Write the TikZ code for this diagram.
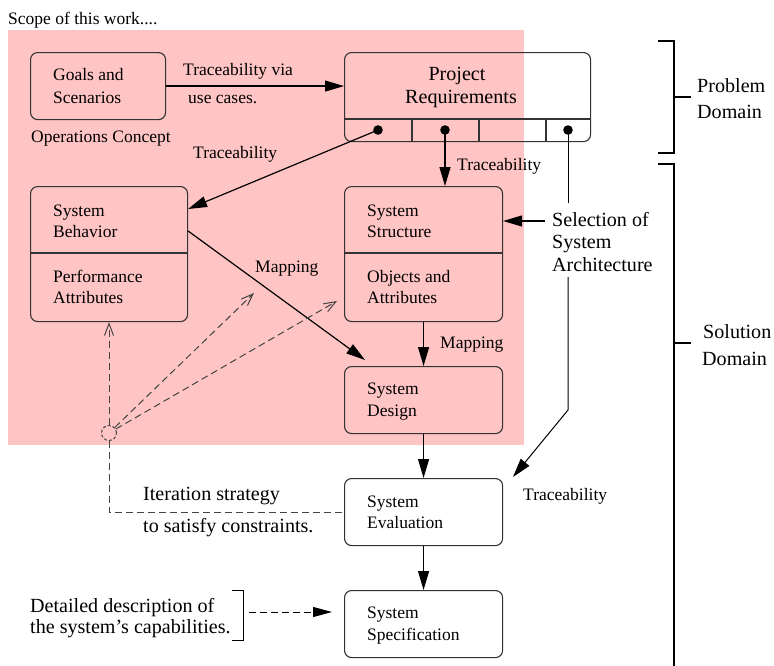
\documentclass[tikz,border=0pt]{standalone}
\usepackage{fontspec}
\setmainfont{Liberation Serif}
\usetikzlibrary{arrows.meta,calc}
\definecolor{scopepink}{HTML}{FFC4C4}
\definecolor{boxline}{HTML}{333333}
\definecolor{dashgray}{HTML}{444444}
\begin{document}
\begin{tikzpicture}[x=1pt,y=-1pt,
  font=\fontsize{17.5}{21}\selectfont,
  box/.style={draw=boxline,line width=1.1pt,rounded corners=7pt,inner sep=0pt,anchor=north west},
  lbl/.style={anchor=base west,inner sep=0pt},
  big/.style={font=\fontsize{20.1}{24}\selectfont},
  arr/.style={-{Triangle[length=19pt,width=11pt]},line width=1.2pt},
  dsh/.style={draw=dashgray,dash pattern=on 7pt off 4pt,line width=1pt},
  openarr/.style={-{Straight Barb[length=12pt,width=9pt]}},
  brk/.style={line width=2pt}
]
\fill[white] (0,0) rectangle (774,665);
\useasboundingbox (0,0) rectangle (774,665);
\fill[scopepink] (8,30) rectangle (524,445);

\node[lbl] (tscope) at (8,24) {Scope of this work....};

% boxes
\node[box,minimum width=135pt,minimum height=67pt] (goals) at (30,52) {};
\node[box,minimum width=246pt,minimum height=89pt] (req) at (344,52) {};
\node[box,minimum width=157pt,minimum height=135pt] (beh) at (30,186) {};
\node[box,minimum width=158pt,minimum height=135pt] (struct) at (344,186) {};
\node[box,minimum width=158pt,minimum height=67pt] (design) at (344,366) {};
\node[box,minimum width=158pt,minimum height=67pt] (eval) at (344,478) {};
\node[box,minimum width=158pt,minimum height=67pt] (spec) at (344,590) {};

% dividers
\draw[boxline,line width=1.1pt] ($(beh.north west)+(0,67)$) -- ($(beh.north east)+(0,67)$);
\draw[boxline,line width=1.1pt] ($(struct.north west)+(0,67)$) -- ($(struct.north east)+(0,67)$);
\draw[boxline,line width=1.1pt] ($(req.north west)+(0,67)$) -- ($(req.north east)+(0,67)$);
\foreach \xx in {412,479,546}{\draw[boxline,line width=1.1pt] (\xx,119) -- (\xx,141);}

% dots
\coordinate (d1) at (378,130);
\coordinate (d2) at (445,130);
\coordinate (d3) at (568,130);
\foreach \d in {d1,d2,d3}{\fill (\d) circle[radius=4.8pt];}

% box texts
\node[lbl] (g1) at (53,80) {Goals and};
\node[lbl] (g2) at (53,103) {Scenarios};
\node[lbl] (opc) at (31,142) {Operations Concept};
\node[anchor=base,inner sep=0pt,big] (r1) at (457,80) {Project};
\node[anchor=base,inner sep=0pt,big] (r2) at (461,103) {Requirements};
\node[lbl] (b1) at (53,216) {System};
\node[lbl] (b2) at (53,237) {Behavior};
\node[lbl] (b3) at (53,282) {Performance};
\node[lbl] (b4) at (53,303) {Attributes};
\node[lbl] (s1) at (367,216) {System};
\node[lbl] (s2) at (367,237) {Structure};
\node[lbl] (s3) at (367,282) {Objects and};
\node[lbl] (s4) at (367,303) {Attributes};
\node[lbl] (de1) at (367,394) {System};
\node[lbl] (de2) at (367,416) {Design};
\node[lbl] (e1) at (367,507) {System};
\node[lbl] (e2) at (367,528) {Evaluation};
\node[lbl] (sp1) at (367,618) {System};
\node[lbl] (sp2) at (367,640) {Specification};

% connector labels
\node[lbl] (tv1) at (183,75) {Traceability via};
\node[lbl] (tv2) at (188,103) {use cases.};
\node[lbl] (tr1) at (193,158) {Traceability};
\node[lbl] (tr2) at (457,170) {Traceability};
\node[lbl] (map1) at (255,272) {Mapping};
\node[lbl] (map2) at (440,348) {Mapping};
\node[lbl,big] (sel1) at (552,226) {Selection of};
\node[lbl,big] (sel2) at (552,248) {System};
\node[lbl,big] (sel3) at (552,271) {Architecture};
\node[lbl] (tr3) at (523,500) {Traceability};
\node[lbl,big] (it1) at (143,500) {Iteration strategy};
\node[lbl,big] (it2) at (143,532) {to satisfy constraints.};
\node[lbl,big] (dd1) at (30,612) {Detailed description of};
\node[lbl,big] (dd2) at (30,633) {the system's capabilities.};
\node[lbl,big] (pd1) at (697,92) {Problem};
\node[lbl,big] (pd2) at (697,118) {Domain};
\node[lbl,big] (sd1) at (703,338) {Solution};
\node[lbl,big] (sd2) at (702,365) {Domain};

% solid connectors
\draw[arr] (goals.east) -- (req.west |- goals.east);
\draw[arr] (d1) -- ($(beh.north east)+(0,23)$);
\draw[arr] (d2) -- (d2 |- struct.north);
\draw[arr] ($(beh.north east)+(0,45)$) -- ($(design.north west)+(21,-6)$);
\draw[arr] (struct.south) -- (design.north);
\draw[arr] (design.south) -- (eval.north);
\draw[arr] (eval.south) -- (spec.north);
\coordinate (selA) at (545,221);
\draw[arr] (selA) -- (selA -| struct.east);
\coordinate (selTop) at (568,203);
\coordinate (selBot) at (568,277);
\coordinate (selBend) at (568,410);
\coordinate (evTip) at (513,477);
\draw[line width=1pt] (d3) -- (selTop);
\draw[arr,line width=1pt] (selBot) -- (selBend) -- (evTip);

% dashed iteration
\node[circle,draw=dashgray,dash pattern=on 3pt off 2pt,line width=1pt,minimum size=15pt,inner sep=0pt] (circ) at (109,433) {};
\coordinate (da1) at (254,293);
\coordinate (da2) at (337,301);
\draw[dsh,openarr] (circ.north) -- (circ.north |- beh.south);
\draw[dsh,openarr] (circ) -- (da1);
\draw[dsh,openarr] (circ) -- (da2);
\draw[dsh] (circ.south) |- (eval.west);

% detailed description
\draw[line width=1pt] (232,590) -- (243,590) -- (243,640) -- (232,640);
\coordinate (ddA) at (249,612);
\draw[dsh,draw=black,-{Triangle[length=19pt,width=10pt]},shorten >=12pt] (ddA) -- (ddA -| spec.west);

% domain brackets
\draw[brk] (658,41) -- (674,41) -- (674,153) -- (658,153);
\draw[brk] (674,97) -- (691,97);
\draw[brk] (658,164) -- (674,164) -- (674,666);
\draw[brk] (674,343) -- (691,343);
\end{tikzpicture}
\end{document}
